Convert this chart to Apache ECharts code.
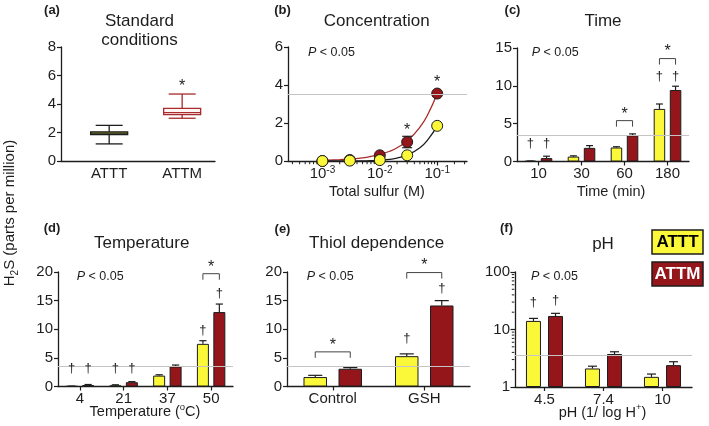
<!DOCTYPE html>
<html><head><meta charset="utf-8">
<script src="https://cdn.jsdelivr.net/npm/echarts@6.0.0/dist/echarts.min.js"></script>
<style>html,body{margin:0;padding:0;background:#fff;}#chart{width:709px;height:426px;}</style>
</head><body><div id="chart"></div>
<script>
// ---------------- DATA ----------------
// (a) Standard conditions: [min, q1, median, q3, max]
const boxCategories = ['ATTT', 'ATTM'];
const boxATTT = [1.2, 1.85, 1.95, 2.05, 2.5];
const boxATTM = [3.0, 3.25, 3.4, 3.7, 4.7];
const boxStars = [[1, 5.5]];

// (b) Concentration
const concX = [0.001, 0.003, 0.01, 0.03, 0.1];
const concATTT = [0.0, 0.02, 0.05, 0.3, 1.85];
const concATTM = [0.0, 0.05, 0.3, 1.0, 3.55];
const concATTMErr = [0, 0, 0, 0.3, 0];
const fitX = [0.001, 0.002, 0.003, 0.005, 0.007, 0.01, 0.015, 0.02, 0.03, 0.05, 0.07, 0.1];
const fitATTM = [0.03, 0.07, 0.1, 0.17, 0.24, 0.34, 0.52, 0.7, 1.05, 1.78, 2.5, 3.55];
const fitATTT = [0.0, 0.0, 0.01, 0.01, 0.02, 0.05, 0.09, 0.15, 0.32, 0.7, 1.15, 1.85];
const concStars = [[0.03, 1.8], [0.1, 4.3]];
const concTicks = [0.001, 0.01, 0.1];
const concMinorTicks = [0.0003, 0.0004, 0.0005, 0.0006, 0.0007, 0.0008, 0.0009,
  0.002, 0.003, 0.004, 0.005, 0.006, 0.007, 0.008, 0.009,
  0.02, 0.03, 0.04, 0.05, 0.06, 0.07, 0.08, 0.09, 0.2, 0.3];

// (c) Time
const timeCats = ['10', '30', '60', '180'];
const timeATTT = [0.05, 0.65, 1.85, 6.95];
const timeATTTErr = [0.02, 0.1, 0.1, 0.65];
const timeATTM = [0.45, 1.8, 3.45, 9.45];
const timeATTMErr = [0.25, 0.3, 0.2, 0.5];
const timeDaggers = [[0, 0, 2.4], [0, 1, 2.4], [3, 0, 11.25], [3, 1, 11.25]];
const timeBrackets = [[2, 5.4], [3, 13.6]];

// (d) Temperature
const tempCats = ['4', '21', '37', '50'];
const tempATTT = [0.05, 0.2, 1.9, 7.45];
const tempATTTErr = [0.02, 0.1, 0.15, 0.55];
const tempATTM = [0.25, 0.75, 3.5, 13.0];
const tempATTMErr = [0.1, 0.1, 0.25, 1.4];
const tempDaggers = [[0, 0, 3.2], [0, 1, 3.2], [1, 0, 3.2], [1, 1, 3.2], [3, 0, 9.8], [3, 1, 16.2]];
const tempBrackets = [[3, 19.7]];

// (e) Thiol dependence
const thiolCats = ['Control', 'GSH'];
const thiolATTT = [1.65, 5.3];
const thiolATTTErr = [0.3, 0.4];
const thiolATTM = [3.1, 14.15];
const thiolATTMErr = [0.2, 0.85];
const thiolDaggers = [[1, 0, 8.45], [1, 1, 17.2]];
const thiolBrackets = [[0, 6.05], [1, 19.9]];

// (f) pH
const phCats = ['4.5', '7.4', '10'];
const phATTT = [14.1, 2.1, 1.5];
const phATTTErr = [1.5, 0.2, 0.18];
const phATTM = [17.2, 3.75, 2.4];
const phATTMErr = [1.9, 0.35, 0.35];
const phDaggers = [[0, 0, 29], [0, 1, 32]];
const phTicks = [1, 10, 100];
const phMinorTicks = [2, 3, 4, 5, 6, 7, 8, 9, 20, 30, 40, 50, 60, 70, 80, 90];

const refLevel = 3.5;

// ---------------- STYLE ----------------
const FONT = '"Liberation Sans", Arial, Helvetica, sans-serif';
const INK = '#1d1d1d', YEL = '#fbf83a', RED = '#94151a', LRED = '#a82a2a', REF = '#c4c4c4';
const BAR = { c: { w: 11.5, g: 0.4 }, d: { w: 12, g: 0.37 }, e: { w: 23.5, g: 0.49 }, f: { w: 15, g: 0.47 } };

const axLine = { show: true, onZero: false, lineStyle: { color: INK, width: 1.3 } };
const tick = (len, extra) => Object.assign({ show: true, length: len, lineStyle: { color: INK, width: 1.2 } }, extra || {});
const lab = (extra) => Object.assign({ color: INK, fontFamily: FONT, fontSize: 15, margin: 5 }, extra || {});
const noSplit = { show: false };
const supRich = {
  m: { fontSize: 15, fontFamily: FONT, color: INK, lineHeight: 18 },
  u: { fontSize: 10, fontFamily: FONT, color: INK, verticalAlign: 'top', lineHeight: 9 }
};

function yv(gi, max, interval) {
  return { type: 'value', gridIndex: gi, min: 0, max: max, interval: interval, axisLine: axLine,
    axisTick: tick(4), axisLabel: lab(), splitLine: noSplit };
}
function xc(gi, cats) {
  return { type: 'category', gridIndex: gi, data: cats, axisLine: axLine,
    axisTick: tick(4, { alignWithLabel: true }), axisLabel: lab({ interval: 0 }), splitLine: noSplit };
}

function bars(ax, vals, color, cfg) {
  return { type: 'bar', xAxisIndex: ax, yAxisIndex: ax, data: vals, barWidth: cfg.w,
    barGap: (cfg.g * 100) + '%', silent: true, z: 2,
    itemStyle: { color: color, borderColor: INK, borderWidth: 1 } };
}
function errs(ax, vals, e, group, cfg) {
  return { type: 'custom', xAxisIndex: ax, yAxisIndex: ax, silent: true, z: 3,
    data: vals.map((v, i) => [i, v, v + e[i]]),
    renderItem: function (p, api) {
      const off = (group ? 1 : -1) * cfg.w * (1 + cfg.g) / 2;
      const b = api.coord([api.value(0), api.value(1)]);
      const t = api.coord([api.value(0), api.value(2)]);
      const x = b[0] + off, cw = cfg.w * 0.6;
      return { type: 'group', children: [
        { type: 'line', shape: { x1: x, y1: b[1], x2: x, y2: t[1] }, style: { stroke: INK, lineWidth: 1.2 } },
        { type: 'line', shape: { x1: x - cw / 2, y1: t[1], x2: x + cw / 2, y2: t[1] }, style: { stroke: INK, lineWidth: 1.2 } }
      ] };
    } };
}
function daggers(ax, items, cfg) {
  return { type: 'custom', xAxisIndex: ax, yAxisIndex: ax, silent: true, z: 5,
    data: items,
    renderItem: function (p, api) {
      const off = (api.value(1) ? 1 : -1) * cfg.w * (1 + cfg.g) / 2;
      const c = api.coord([api.value(0), api.value(2)]);
      return { type: 'text', x: c[0] + off, y: c[1],
        style: { text: '\u2020', fill: INK, fontSize: 13, fontFamily: FONT, align: 'center', verticalAlign: 'middle' } };
    } };
}
function brackets(ax, items, cfg) {
  return { type: 'custom', xAxisIndex: ax, yAxisIndex: ax, silent: true, z: 5,
    data: items,
    renderItem: function (p, api) {
      const d = cfg.w * (1 + cfg.g) / 2;
      const c = api.coord([api.value(0), api.value(1)]);
      return { type: 'group', children: [
        { type: 'polyline', shape: { points: [[c[0] - d, c[1] + 6], [c[0] - d, c[1]], [c[0] + d, c[1]], [c[0] + d, c[1] + 6]] },
          style: { stroke: '#444', lineWidth: 1, fill: null } },
        { type: 'text', x: c[0], y: c[1] - 10 + 3.5,
          style: { text: '*', fill: INK, fontSize: 16, fontFamily: FONT, align: 'center', verticalAlign: 'middle' } }
      ] };
    } };
}
function stars(xi, yi, items) {
  return { type: 'custom', xAxisIndex: xi, yAxisIndex: yi, silent: true, z: 5, data: items,
    renderItem: function (p, api) {
      const c = api.coord([api.value(0), api.value(1)]);
      return { type: 'text', x: c[0], y: c[1] + 3.5,
        style: { text: '*', fill: INK, fontSize: 16, fontFamily: FONT, align: 'center', verticalAlign: 'middle' } };
    } };
}
function refLine(xi, yi) {
  return { type: 'line', xAxisIndex: xi, yAxisIndex: yi, data: [], z: 0, silent: true,
    markLine: { silent: true, symbol: 'none', label: { show: false }, animation: false,
      lineStyle: { color: REF, width: 1.2, type: 'solid' }, data: [{ yAxis: refLevel }] } };
}
// minor log ticks drawn through the axis scale (outside the plot, beneath the markers)
function minorX(xi, yi, vals) {
  return { type: 'custom', xAxisIndex: xi, yAxisIndex: yi, silent: true, z: 1, clip: false,
    data: vals.map(v => [v, 0]),
    renderItem: function (p, api) {
      const c = api.coord([api.value(0), 0]);
      const yb = p.coordSys.y + p.coordSys.height + 0.7;
      return { type: 'line', shape: { x1: c[0], y1: yb, x2: c[0], y2: yb + 2.5 }, style: { stroke: INK, lineWidth: 1 } };
    } };
}
function minorY(xi, yi, vals) {
  return { type: 'custom', xAxisIndex: xi, yAxisIndex: yi, silent: true, z: 1, clip: false,
    data: vals.map(v => [0, v]),
    renderItem: function (p, api) {
      const c = api.coord([0, api.value(1)]);
      const xl = p.coordSys.x - 0.7;
      return { type: 'line', shape: { x1: xl, y1: c[1], x2: xl - 2.5, y2: c[1] }, style: { stroke: INK, lineWidth: 1 } };
    } };
}

// ---------------- OPTION ----------------
const option = {
  animation: false,
  backgroundColor: '#fff',
  textStyle: { fontFamily: FONT },
  grid: [
    { left: 61, top: 47, width: 154, height: 114 },
    { left: 288, top: 47, width: 179, height: 114 },
    { left: 517, top: 48, width: 172, height: 113.5 },
    { left: 58, top: 272, width: 175, height: 114.5 },
    { left: 287, top: 272, width: 183, height: 114.5 },
    { left: 515, top: 272, width: 177, height: 115 }
  ],
  xAxis: [
    { type: 'value', gridIndex: 0, min: -0.66, max: 1.45, axisLine: axLine, axisTick: { show: false },
      axisLabel: lab({ customValues: [0, 1], formatter: v => boxCategories[Math.round(v)] }), splitLine: noSplit },
    { type: 'log', logBase: 10, gridIndex: 1, min: 0.000251, max: 0.331, position: 'bottom', axisLine: axLine,
      axisTick: tick(4.5, { customValues: concTicks }),
      axisLabel: lab({ customValues: concTicks, margin: 4, rich: supRich,
        formatter: v => '{m|10}{u|' + Math.round(Math.log10(v)) + '}' }), splitLine: noSplit },
    xc(2, timeCats), xc(3, tempCats), xc(4, thiolCats), xc(5, phCats)
  ],
  yAxis: [
    yv(0, 8, 2), yv(1, 6, 2), yv(2, 15, 5), yv(3, 20, 5), yv(4, 20, 5),
    { type: 'log', logBase: 10, gridIndex: 5, min: 1, max: 100, position: 'left', axisLine: axLine,
      axisTick: tick(4.5, { customValues: phTicks }), axisLabel: lab({ customValues: phTicks }), splitLine: noSplit }
  ],
  series: [
    // (a)
    { type: 'custom', xAxisIndex: 0, yAxisIndex: 0, silent: true, z: 3,
      data: [[0].concat(boxATTT), [1].concat(boxATTM)],
      renderItem: function (p, api) {
        const i = api.value(0);
        const pt = k => api.coord([i, api.value(k)]);
        const mn = pt(1), q1 = pt(2), md = pt(3), q3 = pt(4), mx = pt(5);
        const x = mn[0], hw = 18.5, cw = 13.5;
        const st = i === 0 ? INK : LRED;
        const fl = i === 0 ? '#cfcc3c' : '#fff6f4';
        const ls = { stroke: st, lineWidth: 1.3 };
        return { type: 'group', children: [
          { type: 'line', shape: { x1: x, y1: mx[1], x2: x, y2: q3[1] }, style: ls },
          { type: 'line', shape: { x1: x, y1: q1[1], x2: x, y2: mn[1] }, style: ls },
          { type: 'line', shape: { x1: x - cw, y1: mx[1], x2: x + cw, y2: mx[1] }, style: ls },
          { type: 'line', shape: { x1: x - cw, y1: mn[1], x2: x + cw, y2: mn[1] }, style: ls },
          { type: 'rect', shape: { x: x - hw, y: q3[1], width: 2 * hw, height: q1[1] - q3[1] },
            style: { fill: fl, stroke: st, lineWidth: 1.3 } },
          { type: 'line', shape: { x1: x - hw, y1: md[1], x2: x + hw, y2: md[1] }, style: ls }
        ] };
      } },
    stars(0, 0, boxStars),
    // (b)
    refLine(1, 1),
    minorX(1, 1, concMinorTicks),
    { type: 'line', xAxisIndex: 1, yAxisIndex: 1, data: fitX.map((x, i) => [x, fitATTM[i]]), smooth: true,
      symbol: 'none', silent: true, z: 2, lineStyle: { color: LRED, width: 1.3 } },
    { type: 'line', xAxisIndex: 1, yAxisIndex: 1, data: fitX.map((x, i) => [x, fitATTT[i]]), smooth: true,
      symbol: 'none', silent: true, z: 2, lineStyle: { color: INK, width: 1.3 } },
    { type: 'custom', xAxisIndex: 1, yAxisIndex: 1, silent: true, z: 3,
      data: concX.map((x, i) => [x, concATTM[i], concATTMErr[i]]).filter(d => d[2] > 0),
      renderItem: function (p, api) {
        const lo = api.coord([api.value(0), api.value(1) - api.value(2)]);
        const hi = api.coord([api.value(0), api.value(1) + api.value(2)]);
        const x = lo[0], cw = 5;
        const s = { stroke: INK, lineWidth: 1.2 };
        return { type: 'group', children: [
          { type: 'line', shape: { x1: x, y1: lo[1], x2: x, y2: hi[1] }, style: s },
          { type: 'line', shape: { x1: x - cw, y1: lo[1], x2: x + cw, y2: lo[1] }, style: s },
          { type: 'line', shape: { x1: x - cw, y1: hi[1], x2: x + cw, y2: hi[1] }, style: s }
        ] };
      } },
    { type: 'scatter', xAxisIndex: 1, yAxisIndex: 1, data: concX.map((x, i) => [x, concATTM[i]]), symbol: 'circle',
      symbolSize: 11, silent: true, z: 4, itemStyle: { color: RED, borderColor: INK, borderWidth: 1, opacity: 1 } },
    { type: 'scatter', xAxisIndex: 1, yAxisIndex: 1, data: concX.map((x, i) => [x, concATTT[i]]), symbol: 'circle',
      symbolSize: 11, silent: true, z: 5, itemStyle: { color: YEL, borderColor: INK, borderWidth: 1, opacity: 1 } },
    stars(1, 1, concStars),
    // (c)
    refLine(2, 2),
    bars(2, timeATTT, YEL, BAR.c), bars(2, timeATTM, RED, BAR.c),
    errs(2, timeATTT, timeATTTErr, 0, BAR.c), errs(2, timeATTM, timeATTMErr, 1, BAR.c),
    daggers(2, timeDaggers, BAR.c), brackets(2, timeBrackets, BAR.c),
    // (d)
    refLine(3, 3),
    bars(3, tempATTT, YEL, BAR.d), bars(3, tempATTM, RED, BAR.d),
    errs(3, tempATTT, tempATTTErr, 0, BAR.d), errs(3, tempATTM, tempATTMErr, 1, BAR.d),
    daggers(3, tempDaggers, BAR.d), brackets(3, tempBrackets, BAR.d),
    // (e)
    refLine(4, 4),
    bars(4, thiolATTT, YEL, BAR.e), bars(4, thiolATTM, RED, BAR.e),
    errs(4, thiolATTT, thiolATTTErr, 0, BAR.e), errs(4, thiolATTM, thiolATTMErr, 1, BAR.e),
    daggers(4, thiolDaggers, BAR.e), brackets(4, thiolBrackets, BAR.e),
    // (f)
    refLine(5, 5),
    minorY(5, 5, phMinorTicks),
    bars(5, phATTT, YEL, BAR.f), bars(5, phATTM, RED, BAR.f),
    errs(5, phATTT, phATTTErr, 0, BAR.f), errs(5, phATTM, phATTMErr, 1, BAR.f),
    daggers(5, phDaggers, BAR.f)
  ],
  graphic: []
};

// ---------------- TEXT ELEMENTS ----------------
function txt(x, y, text, o) {
  return { type: 'text', x: x, y: y, silent: true,
    style: Object.assign({ text: text, fill: INK, fontFamily: FONT, fontSize: 17, align: 'center', verticalAlign: 'middle' }, o || {}) };
}
const pRich = {
  i: { fontStyle: 'italic', fontSize: 12.5, fontFamily: FONT, fill: INK },
  n: { fontSize: 12.5, fontFamily: FONT, fill: INK }
};
const nameRich = {
  m: { fontSize: 14.5, fontFamily: FONT, fill: INK, lineHeight: 20, verticalAlign: 'middle' },
  u: { fontSize: 9.5, fontFamily: FONT, fill: INK, lineHeight: 10, verticalAlign: 'top' },
  s: { fontSize: 10, fontFamily: FONT, fill: INK, lineHeight: 10, verticalAlign: 'bottom' },
  y: { fontSize: 15, fontFamily: FONT, fill: INK, lineHeight: 20, verticalAlign: 'middle' }
};
const G = option.graphic;
[['(a)', 52, 10], ['(b)', 282.5, 10], ['(c)', 512.5, 10], ['(d)', 52, 228], ['(e)', 282.5, 229], ['(f)', 506.5, 228]]
  .forEach(t => G.push(txt(t[1], t[2], t[0], { fontSize: 13, fontWeight: 'bold' })));
[['Standard', 139.5, 21], ['conditions', 139.5, 40.5], ['Concentration', 376.7, 21], ['Time', 603, 21],
 ['Temperature', 141.7, 243], ['Thiol dependence', 376.7, 243], ['pH', 603, 244]]
  .forEach(t => G.push(txt(t[1], t[2], t[0])));
[[308, 52.5], [531.7, 52.5], [76.7, 277], [306.7, 277], [531, 277]]
  .forEach(p => G.push(txt(p[0], p[1], '{i|P}{n| < 0.05}', { align: 'left', rich: pRich, fontSize: 12.5 })));
G.push(txt(377, 192, '{m|Total sulfur (M)}', { rich: nameRich, fontSize: 14.5 }));
G.push(txt(611, 191.5, '{m|Time (min)}', { rich: nameRich, fontSize: 14.5 }));
G.push(txt(145, 412, '{m|Temperature (}{u|o}{m|C)}', { rich: nameRich, fontSize: 14.5 }));
G.push(txt(602.5, 412.5, '{m|pH (1/ log H}{u|+}{m|)}', { rich: nameRich, fontSize: 14.5 }));
G.push(Object.assign(txt(10, 213, '{y|H}{s|2}{y|S (parts per million)}', { rich: nameRich, fontSize: 15 }), { rotation: Math.PI / 2 }));
// legend boxes
G.push({ type: 'rect', silent: true, shape: { x: 652, y: 230, width: 51, height: 24 }, style: { fill: YEL, stroke: INK, lineWidth: 1.5 } });
G.push(txt(677.5, 242.5, 'ATTT', { fontSize: 17, fontWeight: 'bold', fill: '#000' }));
G.push({ type: 'rect', silent: true, shape: { x: 652, y: 262, width: 51, height: 24 }, style: { fill: RED, stroke: INK, lineWidth: 1.5 } });
G.push(txt(677.5, 274.5, 'ATTM', { fontSize: 17, fontWeight: 'bold', fill: '#fff' }));

const chart = echarts.init(document.getElementById('chart'), null, { renderer: 'canvas' });
chart.setOption(option);
</script>
</body></html>
